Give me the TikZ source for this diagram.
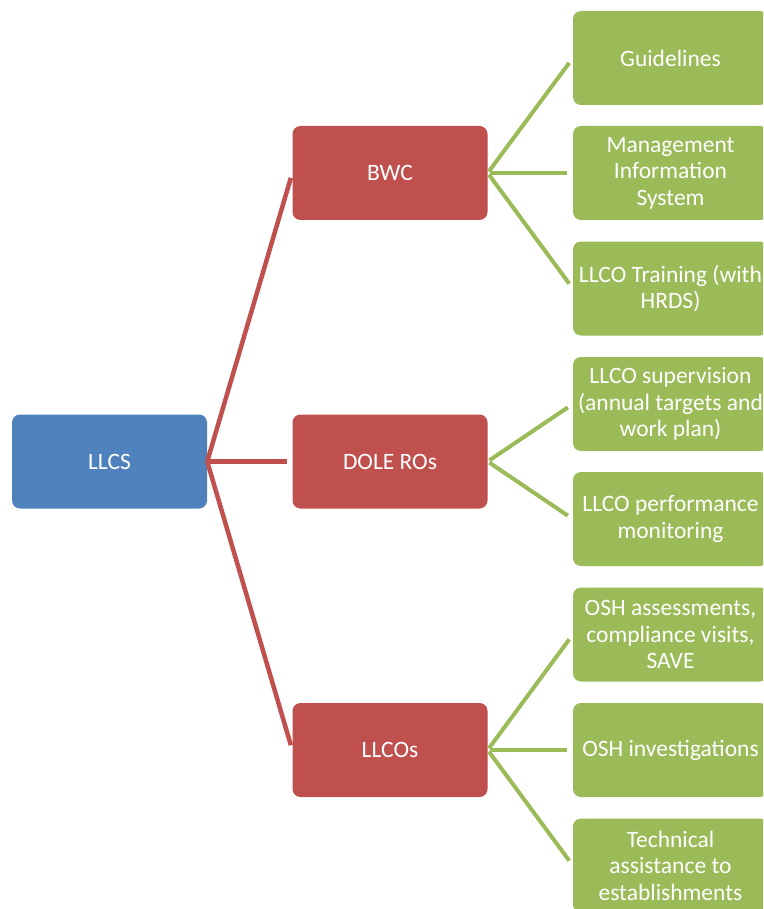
\documentclass[tikz,border=0pt]{standalone}
\usepackage{fontspec}
\setmainfont{Carlito}
\definecolor{cblue}{HTML}{4F81BD}
\definecolor{cred}{HTML}{C0504D}
\definecolor{cgreen}{HTML}{9BBB59}
\tikzset{
  box/.style={rounded corners=8pt, minimum width=195pt, minimum height=94pt,
    text=white, font=\fontsize{23.5}{26.5}\selectfont, align=center, inner sep=0pt},
  bluebox/.style={box, fill=cblue},
  redbox/.style={box, fill=cred},
  greenbox/.style={box, fill=cgreen},
  redline/.style={draw=cred, line width=4.5pt, shorten >=5pt},
  greenline/.style={draw=cgreen, line width=4pt, shorten <=2pt, shorten >=6pt}
}
\begin{document}
\begin{tikzpicture}[x=1pt, y=-1pt]
\useasboundingbox (0,0) rectangle (763,909);
\clip (0,0) rectangle (763,909);
\node[bluebox] (llcs) at (109.5,461.5) {LLCS};
\node[redbox] (bwc) at (390,173) {BWC};
\node[redbox] (dole) at (390,461.5) {DOLE ROs};
\node[redbox] (llcos) at (390,750) {LLCOs};
\node[greenbox] (g1) at (670.5,58) {Guidelines};
\node[greenbox] (g2) at (670.5,173) {Management\\Information\\System};
\node[greenbox] (g3) at (670.5,288.5) {LLCO Training (with\\HRDS)};
\node[greenbox] (g4) at (670.5,404) {LLCO supervision\\(annual targets and\\work plan)};
\node[greenbox] (g5) at (670.5,519) {LLCO performance\\monitoring};
\node[greenbox] (g6) at (670.5,634.5) {OSH assessments,\\compliance visits,\\SAVE};
\node[greenbox] (g7) at (670.5,750) {OSH investigations};
\node[greenbox] (g8) at (670.5,865.5) {Technical\\assistance to\\establishments};
\draw[redline] (llcs.east) -- (bwc.west);
\draw[redline] (llcs.east) -- (dole.west);
\draw[redline] (llcs.east) -- (llcos.west);
\draw[greenline] (bwc.east) -- (g1.west);
\draw[greenline] (bwc.east) -- (g2.west);
\draw[greenline] (bwc.east) -- (g3.west);
\draw[greenline] (dole.east) -- (g4.west);
\draw[greenline] (dole.east) -- (g5.west);
\draw[greenline] (llcos.east) -- (g6.west);
\draw[greenline] (llcos.east) -- (g7.west);
\draw[greenline] (llcos.east) -- (g8.west);
\end{tikzpicture}
\end{document}
